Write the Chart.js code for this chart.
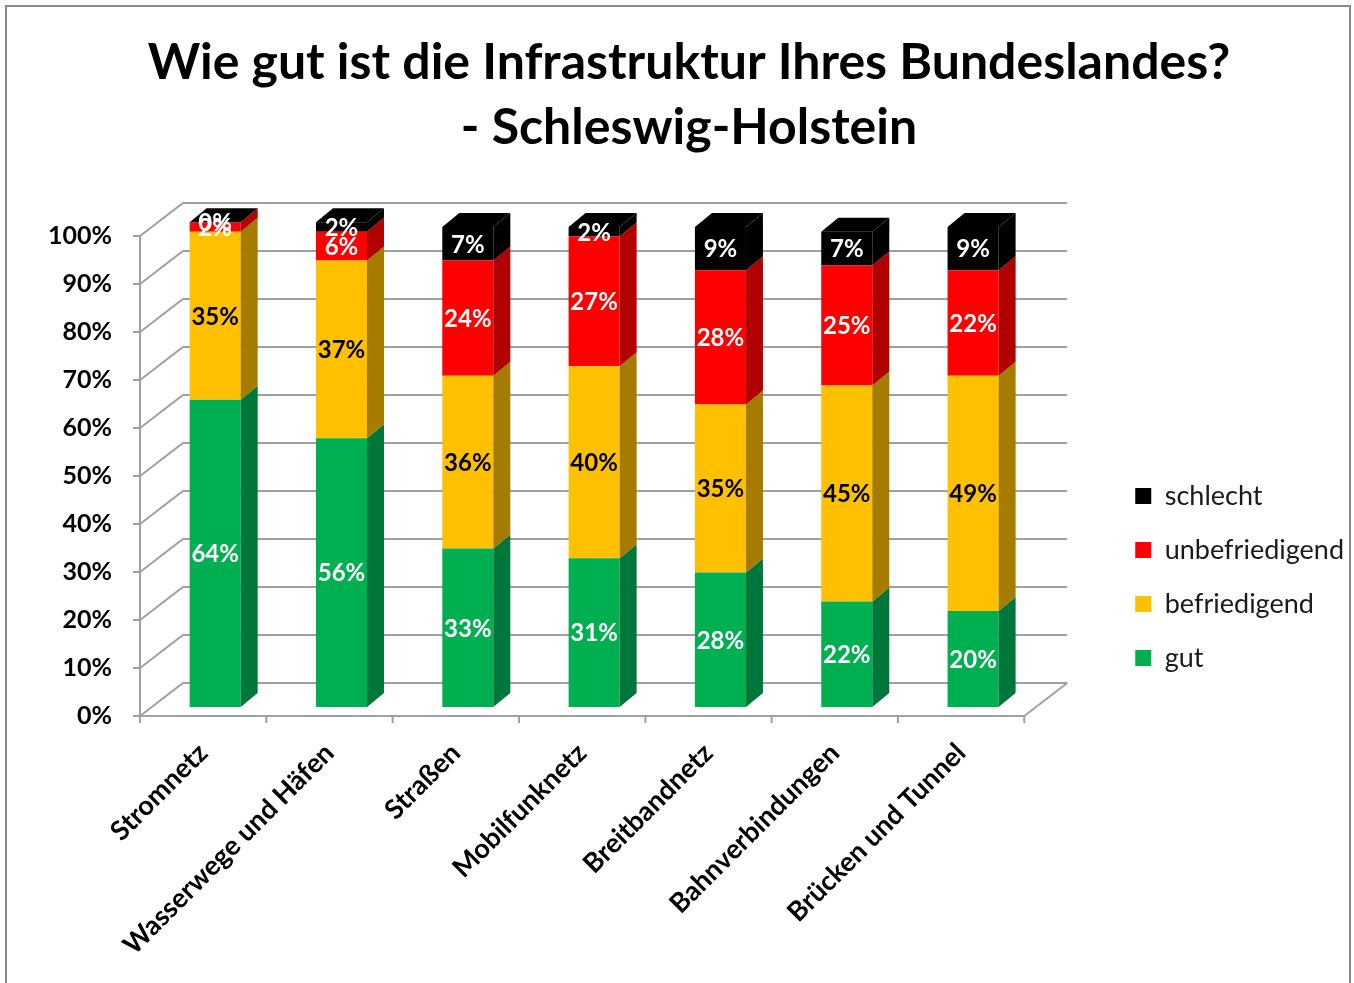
<!DOCTYPE html>
<html><head><meta charset="utf-8">
<script src="https://cdn.jsdelivr.net/npm/chart.js@4.4.1/dist/chart.umd.min.js"></script>
<style>html,body{margin:0;padding:0;background:#fff;}#wrap{position:relative;width:1354px;height:983px;}</style>
</head><body><div id="wrap"><canvas id="c" width="1354" height="983"></canvas></div>
<script>
const titleLines = ['Wie gut ist die Infrastruktur Ihres Bundeslandes?', '- Schleswig-Holstein'];
const categories = ['Stromnetz', 'Wasserwege und Häfen', 'Straßen', 'Mobilfunknetz', 'Breitbandnetz', 'Bahnverbindungen', 'Brücken und Tunnel'];
const seriesNames = ['gut', 'befriedigend', 'unbefriedigend', 'schlecht'];
const gut = [64, 56, 33, 31, 28, 22, 20];
const befriedigend = [35, 37, 36, 40, 35, 45, 49];
const unbefriedigend = [2, 6, 24, 27, 28, 25, 22];
const schlecht = [0, 2, 7, 2, 9, 7, 9];
const yTickStep = 10;

const FONT = 'Lato, "Open Sans", sans-serif';
const frontColors = ['#00B050', '#FFC000', '#FF0000', '#000000'];
const sideColors = ['#00773A', '#A67C00', '#B00000', '#000000'];
const labelColors = ['#FFFFFF', '#000000', '#FFFFFF', '#FFFFFF'];
const D = {axisDx: -12, axisDy: 9, backDx: 31, backDy: -24, sideDx: 17, sideDy: -14};

const PAD = {left: 24, right: 0, top: 0, bottom: 0};
const CHART_LEFT = 152, CHART_BOTTOM = 707, LEGEND_GAP = 72;

function line(ctx, x1, y1, x2, y2) { ctx.beginPath(); ctx.moveTo(x1, y1); ctx.lineTo(x2, y2); ctx.stroke(); }

const frame3d = {
  id: 'frame3d',
  beforeDraw(chart) {
    const ctx = chart.ctx;
    ctx.save();
    ctx.strokeStyle = '#8a8a8a'; ctx.lineWidth = 2;
    ctx.beginPath();
    ctx.moveTo(6, 990); ctx.lineTo(6, 6); ctx.lineTo(1350, 6); ctx.lineTo(1350, 990);
    ctx.stroke();
    ctx.restore();
  },
  beforeDatasetsDraw(chart) {
    const {ctx, chartArea: a, scales: {x, y}} = chart;
    ctx.save();
    ctx.strokeStyle = '#a0a0a0'; ctx.lineWidth = 2;
    const fl = a.left + D.axisDx, fr = a.right + D.axisDx;
    y.ticks.forEach(t => {
      const py = y.getPixelForValue(t.value);
      ctx.beginPath();
      ctx.moveTo(fl, py + D.axisDy);
      ctx.lineTo(a.left + D.backDx, py + D.backDy);
      ctx.lineTo(a.right + D.backDx, py + D.backDy);
      ctx.stroke();
      line(ctx, fl - 7, py + D.axisDy, fl, py + D.axisDy);
    });
    const y0 = y.getPixelForValue(0), y100 = y.getPixelForValue(100);
    line(ctx, fl, y100 + D.axisDy, fl, y0 + D.axisDy);
    line(ctx, fl, y0 + D.axisDy, fr, y0 + D.axisDy);
    line(ctx, fr, y0 + D.axisDy, a.right + D.backDx, y0 + D.backDy);
    for (let i = 0; i <= categories.length; i++) {
      const px = x.getPixelForValue(i - 0.5) + D.axisDx;
      line(ctx, px, y0 + D.axisDy, px, y0 + D.axisDy + 7);
    }
    ctx.restore();
  },
  afterDatasetsDraw(chart) {
    const ctx = chart.ctx;
    ctx.save();
    const n = chart.data.datasets.length;
    for (let d = 0; d < n; d++) {
      const meta = chart.getDatasetMeta(d);
      meta.data.forEach(el => {
        const p = el.getProps(['x', 'y', 'base', 'width'], true);
        const r = p.x + p.width / 2;
        const top = Math.min(p.y, p.base), bot = Math.max(p.y, p.base);
        if (bot - top <= 0) return;
        ctx.fillStyle = sideColors[d];
        ctx.beginPath();
        ctx.moveTo(r, top); ctx.lineTo(r + D.sideDx, top + D.sideDy);
        ctx.lineTo(r + D.sideDx, bot + D.sideDy); ctx.lineTo(r, bot);
        ctx.closePath(); ctx.fill();
      });
    }
    const topMeta = chart.getDatasetMeta(n - 1);
    topMeta.data.forEach(el => {
      const p = el.getProps(['x', 'y', 'base', 'width'], true);
      const l = p.x - p.width / 2, r = p.x + p.width / 2, top = Math.min(p.y, p.base);
      ctx.fillStyle = sideColors[n - 1];
      ctx.beginPath();
      ctx.moveTo(l, top); ctx.lineTo(l + D.sideDx, top + D.sideDy);
      ctx.lineTo(r + D.sideDx, top + D.sideDy); ctx.lineTo(r, top);
      ctx.closePath(); ctx.fill();
    });
    ctx.font = 'bold 24px ' + FONT;
    ctx.textAlign = 'center'; ctx.textBaseline = 'middle';
    for (let d = 0; d < n; d++) {
      const meta = chart.getDatasetMeta(d);
      const vals = chart.data.datasets[d].data;
      meta.data.forEach((el, i) => {
        const p = el.getProps(['x', 'y', 'base'], true);
        ctx.fillStyle = labelColors[d];
        ctx.fillText(vals[i] + '%', p.x, (p.y + p.base) / 2 + 1);
      });
    }
    ctx.restore();
  }
};

const seriesData = [gut, befriedigend, unbefriedigend, schlecht];
const chart = new Chart(document.getElementById('c'), {
  type: 'bar',
  data: {
    labels: categories,
    datasets: seriesNames.map((name, k) => ({
      label: name,
      data: seriesData[k],
      backgroundColor: frontColors[k],
      borderWidth: 0,
      barPercentage: 0.404,
      categoryPercentage: 1,
      clip: false
    }))
  },
  options: {
    responsive: false,
    animation: false,
    layout: {padding: PAD},
    plugins: {
      title: {
        display: true,
        text: titleLines,
        color: '#000',
        font: {family: FONT, size: 50, weight: 'bold', lineHeight: 1.3},
        padding: {top: 30, bottom: 67}
      },
      legend: {
        position: 'right',
        reverse: true,
        maxWidth: 320,
        title: {display: true, text: '', font: {size: 10, lineHeight: 1.2}, padding: {top: 159, bottom: 0}},
        labels: {
          boxWidth: 16, boxHeight: 16, padding: 27,
          color: '#1a1a1a',
          font: {family: FONT, size: 27}
        }
      },
      tooltip: {enabled: false}
    },
    scales: {
      x: {
        stacked: true,
        grid: {display: false, drawTicks: false},
        border: {display: false},
        ticks: {
          autoSkip: false, maxRotation: 45, minRotation: 45, padding: 30, labelOffset: -12,
          color: '#000', font: {family: FONT, size: 27, weight: 'bold'}
        },
        afterFit: s => { s.height = 983 - PAD.bottom - CHART_BOTTOM; }
      },
      y: {
        stacked: true, min: 0, max: 100,
        grid: {display: false, drawTicks: false},
        border: {display: false},
        ticks: {
          stepSize: yTickStep, padding: 40, labelOffset: 9,
          color: '#000', font: {family: FONT, size: 25, weight: 'bold'},
          callback: v => v + '%'
        },
        afterFit: s => { s.width = CHART_LEFT - PAD.left; }
      },
      gap: {
        type: 'linear', position: 'right', display: true,
        grid: {display: false, drawTicks: false},
        border: {display: false},
        ticks: {display: false},
        afterFit: s => { s.width = LEGEND_GAP; }
      }
    }
  },
  plugins: [frame3d]
});
</script>
</body></html>
